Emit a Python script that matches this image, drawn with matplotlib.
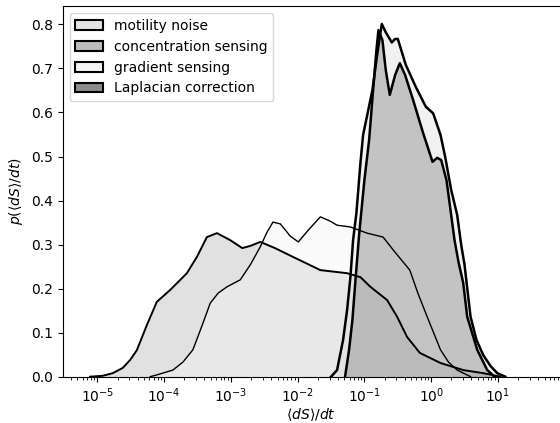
import numpy as np
import matplotlib
matplotlib.use("Agg")
import matplotlib.pyplot as plt
from matplotlib.patches import Patch
from matplotlib.ticker import LogLocator, NullFormatter, LogFormatterSciNotation

# exponents of <dS>/dt (log10) and densities
conc_logx = [-5.11, -4.92, -4.77, -4.62, -4.51, -4.41, -4.26, -4.11, -3.91, -3.66,
             -3.51, -3.36, -3.21, -3.01, -2.83, -2.71, -2.56, -2.34, -2.07, -1.66,
             -1.26, -1.06, -0.91, -0.66, -0.51, -0.36, -0.17, 0.14, 0.48, 0.78, 1.04]
conc_y = [0, 0.002, 0.008, 0.02, 0.038, 0.06, 0.117, 0.17, 0.197, 0.235,
          0.272, 0.317, 0.326, 0.31, 0.292, 0.297, 0.306, 0.292, 0.272, 0.242,
          0.235, 0.226, 0.204, 0.174, 0.136, 0.09, 0.054, 0.031, 0.015, 0.008, 0]

grad_logx = [-4.21, -4.11, -3.87, -3.72, -3.57, -3.43, -3.31, -3.19, -3.06, -2.86,
             -2.71, -2.56, -2.46, -2.37, -2.26, -2.11, -1.99, -1.84, -1.66, -1.51,
             -1.41, -1.21, -0.96, -0.72, -0.57, -0.32, -0.2, -0.06, 0.14, 0.26, 0.39, 0.59]
grad_y = [0, 0.004, 0.015, 0.033, 0.061, 0.117, 0.167, 0.19, 0.204, 0.22,
          0.254, 0.295, 0.328, 0.351, 0.347, 0.319, 0.306, 0.333, 0.363, 0.353,
          0.344, 0.34, 0.326, 0.317, 0.288, 0.242, 0.19, 0.136, 0.061, 0.033, 0.015, 0]

mot_logx = [-1.5, -1.41, -1.32, -1.26, -1.21, -1.17, -1.12, -1.06, -1.02, -0.88,
            -0.81, -0.74, -0.68, -0.59, -0.54, -0.5, -0.38, -0.23, -0.08, 0.03,
            0.14, 0.21, 0.3, 0.39, 0.45, 0.5, 0.54, 0.59, 0.68, 0.78, 0.89, 0.99, 1.11]
mot_y = [0, 0.015, 0.083, 0.151, 0.226, 0.31, 0.372, 0.485, 0.549, 0.651,
         0.73, 0.801, 0.782, 0.759, 0.767, 0.767, 0.708, 0.658, 0.613, 0.598,
         0.549, 0.499, 0.424, 0.367, 0.299, 0.254, 0.201, 0.136, 0.083, 0.049, 0.024, 0.008, 0]

lap_logx = [-1.29, -1.23, -1.18, -1.14, -1.08, -1.0, -0.93, -0.87, -0.82, -0.79,
            -0.73, -0.68, -0.62, -0.54, -0.47, -0.39, -0.27, -0.12, 0.02, 0.09,
            0.15, 0.23, 0.29, 0.35, 0.41, 0.48, 0.54, 0.69, 0.84, 0.95]
lap_y = [0, 0.061, 0.129, 0.208, 0.322, 0.447, 0.537, 0.651, 0.742, 0.787,
         0.764, 0.696, 0.64, 0.685, 0.712, 0.685, 0.628, 0.553, 0.488, 0.497,
         0.492, 0.446, 0.378, 0.31, 0.26, 0.213, 0.136, 0.061, 0.015, 0]

tick_exps = [-5, -4, -3, -2, -1, 0, 1]

labels = ['motility noise', 'concentration sensing', 'gradient sensing', 'Laplacian correction']
series = [(mot_logx, mot_y), (conc_logx, conc_y), (grad_logx, grad_y), (lap_logx, lap_y)]
fills = ['#e4e4e4', '#bdbdbd', '#f4f4f4', '#8c8c8c']
alphas = [0.5, 0.45, 0.4, 0.45]
widths = [1.8, 1.4, 1.0, 1.8]

plt.rcParams['font.size'] = 10
fig = plt.figure(figsize=(5.6, 4.23), dpi=100)
ax = fig.add_axes([0.112, 0.1095, 0.888, 0.876])

for (lx, y), fc, a, lw in zip(series, fills, alphas, widths):
    x = 10.0 ** np.array(lx)
    ax.fill_between(x, y, color=fc, alpha=a, lw=0)
    ax.plot(x, y, color='k', lw=lw)

ax.set_xscale('log')
ax.set_xlim(10 ** -5.52, 10 ** 1.93)
ax.set_ylim(0, 0.8415)
ax.set_xticks([10.0 ** e for e in tick_exps])
ax.xaxis.set_major_formatter(LogFormatterSciNotation())
ax.xaxis.set_minor_locator(LogLocator(base=10, subs=np.arange(2, 10), numticks=100))
ax.xaxis.set_minor_formatter(NullFormatter())
ax.spines['right'].set_visible(False)
ax.set_xlabel(r'$\langle dS\rangle/dt$', labelpad=0.5)
ax.set_ylabel(r'$p(\langle dS\rangle/dt)$')

handles = [Patch(facecolor=fc, edgecolor='k', lw=1.5) for fc in fills]
ax.legend(handles, labels, loc='upper left')

fig.savefig('out.png', dpi=100)
